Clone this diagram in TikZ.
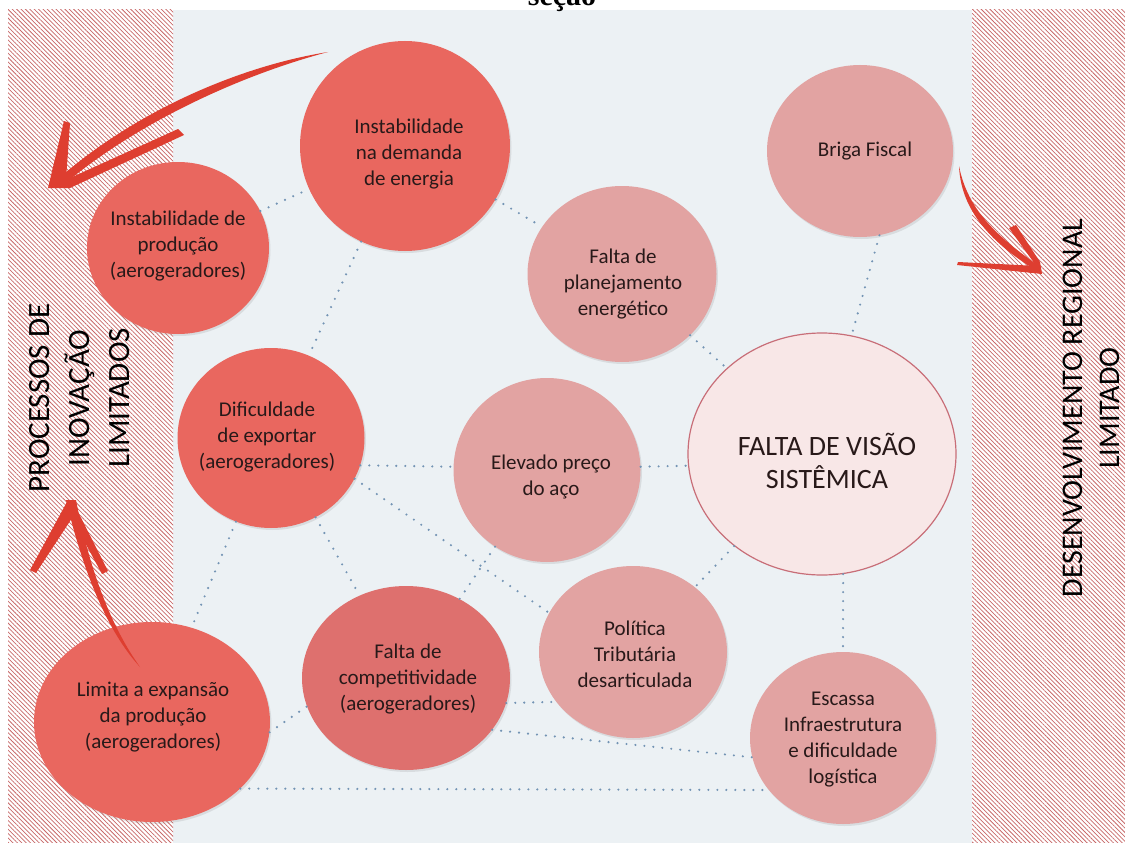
\documentclass[tikz,border=0pt]{standalone}
\usepackage{fontspec}
\setmainfont{Carlito}
\newfontfamily\titlefont{Liberation Serif}
\usetikzlibrary{shapes.geometric,patterns.meta,shadows}
\definecolor{coral}{RGB}{233,103,95}
\definecolor{coraltwo}{RGB}{222,112,110}
\definecolor{rose}{RGB}{226,163,162}
\definecolor{visfill}{RGB}{248,231,231}
\definecolor{visline}{RGB}{200,110,120}
\definecolor{midbg}{RGB}{236,241,244}
\definecolor{hatchred}{RGB}{200,105,105}
\definecolor{dotblue}{RGB}{115,148,180}
\definecolor{arrowred}{RGB}{222,62,48}
\definecolor{txt}{RGB}{40,25,25}
\begin{document}
\begin{tikzpicture}[x=1pt,y=-1pt,
  bubble/.style={ellipse, inner sep=0pt, draw=none, drop shadow={opacity=0.18, shadow xshift=1.5pt, shadow yshift=-2pt}},
  lbl/.style={align=center, text=txt, font=\fontsize{21}{26}\selectfont, inner sep=0pt},
  side/.style={rotate=90, align=center, text=black, inner sep=0pt},
  conn/.style={draw=dotblue, line width=2.4pt, line cap=round, dash pattern=on 0pt off 9pt},
  sketch/.style={fill=arrowred},
  hatch/.style={pattern={Lines[angle=-45,distance=3.1pt,line width=0.75pt]}, pattern color=hatchred}
]
\useasboundingbox (0,0) rectangle (1125,843);
% backgrounds
\fill[white] (0,0) rectangle (1125,843);
\fill[midbg] (173,10) rectangle (972,843);
\fill[white] (8,10) rectangle (173,843);
\fill[hatch] (8,10) rectangle (173,843);
\fill[white] (972,10) rectangle (1125,843);
\fill[hatch] (972,10) rectangle (1125,843);
% title
\node[font=\titlefont\bfseries\fontsize{30}{30}\selectfont, anchor=base, inner sep=0pt] (title) at (562,6) {seção};
% side texts
\node[side, font=\fontsize{31}{40}\selectfont] (leftt) at (80,398) {PROCESSOS DE\\INOVAÇÃO\\LIMITADOS};
\node[side, font=\fontsize{30}{37}\selectfont] (rightt) at (1091,408) {DESENVOLVIMENTO REGIONAL\\LIMITADO};
% bubbles
\node[bubble, fill=coral, minimum width=210pt, minimum height=210pt] (dem) at (405,146) {};
\node[bubble, fill=coral, minimum width=182pt, minimum height=172pt] (prod) at (178,248) {};
\node[bubble, fill=rose, minimum width=189pt, minimum height=176pt] (plan) at (622,274) {};
\node[bubble, fill=rose, minimum width=186pt, minimum height=172pt] (briga) at (860,151) {};
\node[ellipse, inner sep=0pt, fill=visfill, draw=visline, line width=1.2pt, minimum width=268pt, minimum height=242pt] (vis) at (822,454) {};
\node[bubble, fill=coral, minimum width=187pt, minimum height=180pt] (dif) at (271,438) {};
\node[bubble, fill=rose, minimum width=187pt, minimum height=184pt] (elev) at (547,470) {};
\node[bubble, fill=coraltwo, minimum width=208pt, minimum height=184pt] (comp) at (406,678) {};
\node[bubble, fill=rose, minimum width=188pt, minimum height=172pt] (pol) at (633,652) {};
\node[bubble, fill=rose, minimum width=186pt, minimum height=172pt] (esc) at (843,738) {};
\node[bubble, fill=coral, minimum width=236pt, minimum height=200pt] (lim) at (152,722) {};
% labels
\node[lbl] (demt) at (409,154) {Instabilidade\\na demanda\\de energia};
\node[lbl] (prodt) at (178,246) {Instabilidade de\\produção\\(aerogeradores)};
\node[lbl] (plant) at (623,284) {Falta de\\planejamento\\energético};
\node[lbl] (brigat) at (865,151) {Briga Fiscal};
\node[lbl, font=\fontsize{28}{33}\selectfont] (vist) at (827,461) {FALTA DE VISÃO\\SISTÊMICA};
\node[lbl] (dift) at (267,437) {Dificuldade\\de exportar\\(aerogeradores)};
\node[lbl] (elevt) at (551,477) {Elevado preço\\do aço};
\node[lbl] (compt) at (408,679) {Falta de\\competitividade\\(aerogeradores)};
\node[lbl] (polt) at (635,654) {Política\\Tributária\\desarticulada};
\node[lbl] (esct) at (843,740) {Escassa\\Infraestrutura\\e dificuldade\\logística};
\node[lbl] (limt) at (153,717) {Limita a expansão\\da produção\\(aerogeradores)};
% connectors
\draw[conn] (prod) -- (dem);
\draw[conn] (dem) -- (plan);
\draw[conn] (dem) -- (dif);
\draw[conn] (plan) -- (vis);
\draw[conn] (briga.283) -- (vis.76);
\draw[conn] (dif.-17) -- (elev.178);
\draw[conn] (elev.2) -- (vis.185);
\draw[conn] (dif.-26) -- (pol.155);
\draw[conn] (dif) -- (comp);
\draw[conn] (dif) -- (lim);
\draw[conn] (elev) -- (comp);
\draw[conn] (vis) -- (pol);
\draw[conn] (vis.-80) -- (esc.90);
\draw[conn] (comp.-14) -- (pol.213);
\draw[conn] (comp.-31) -- (esc.192);
\draw[conn] (lim.-37) -- (esc.215);
\draw[conn] (lim.-5) -- (comp.196);
% sketched arrows
\fill[sketch] (328,52) .. controls (240,66) and (130,112) .. (48,188) -- (62,186) .. controls (140,120) and (245,74) .. (328,52) -- cycle;
\fill[sketch] (48,188) -- (178,129) -- (184,135) -- (70,188) -- cycle;
\fill[sketch] (48,188) -- (64,121) -- (70,123) -- (66,180) -- cycle;
\fill[sketch] (140,667) .. controls (108,632) and (84,575) .. (66,500) -- (76,500) .. controls (90,572) and (112,628) .. (140,667) -- cycle;
\fill[sketch] (68,500) -- (30,570) -- (36,573) -- (76,512) -- cycle;
\fill[sketch] (72,500) -- (108,571) -- (102,574) -- (70,515) -- cycle;
\fill[sketch] (959,166) .. controls (961,215) and (998,248) .. (1042,274) -- (1036,264) .. controls (1000,238) and (968,212) .. (959,166) -- cycle;
\fill[sketch] (1042,274) -- (1009,228) -- (1016,225) -- (1040,262) -- cycle;
\fill[sketch] (1042,274) -- (957,265) -- (958,262) -- (1038,266) -- cycle;
\end{tikzpicture}
\end{document}
